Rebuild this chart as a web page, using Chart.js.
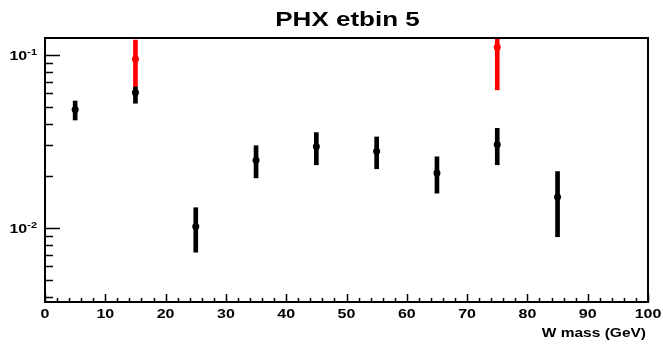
<!DOCTYPE html>
<html>
<head>
<meta charset="utf-8">
<script src="https://cdn.jsdelivr.net/npm/chart.js@4"></script>
<style>
  html, body { margin: 0; padding: 0; background: #fff; }
  canvas { display: block; }
</style>
</head>
<body>
<canvas id="c" width="663" height="345"></canvas>
<script>
// W mass bin centres (GeV)
const massBins = [5, 15, 25, 35, 45, 55, 65, 75, 85];
const phxVals = [0.0484, 0.0607, 0.0102, 0.0246, 0.0296, 0.0278, 0.0208, 0.0304, 0.0151];
const phxHi = [0.0542, 0.0658, 0.0131, 0.0299, 0.0356, 0.0336, 0.0258, 0.0377, 0.0212];
const phxLo = [0.0421, 0.0526, 0.00725, 0.0195, 0.0232, 0.0220, 0.0159, 0.0232, 0.0089];

// second (red) histogram, only two filled bins
const redBins = [15, 75];
const redVals = [0.0948, 0.111];
const redHi = [0.122, 0.16];
const redLo = [0.066, 0.0629];

const xTicks = [0, 10, 20, 30, 40, 50, 60, 70, 80, 90, 100];
const yTickVals = [0.1, 0.01];
const yTickExps = ['-1', '-2'];

const titleText = 'PHX etbin 5';
const xTitle = 'W mass (GeV)';

const FONT = '"Liberation Sans", Arial, Helvetica, sans-serif';

function squashText(ctx, s, x, y, size, align) {
  ctx.save();
  ctx.translate(x, y);
  ctx.scale(1, 0.78);
  ctx.font = 'bold ' + size + 'px ' + FONT;
  ctx.textAlign = align;
  ctx.textBaseline = 'alphabetic';
  ctx.fillStyle = '#000';
  ctx.fillText(s, 0, 0);
  ctx.restore();
}

const rootFrame = {
  id: 'rootFrame',
  afterDraw(chart) {
    const ctx = chart.ctx;
    const a = chart.chartArea;
    const xs = chart.scales.x;
    const ys = chart.scales.y;
    ctx.save();
    ctx.strokeStyle = '#000';
    ctx.lineWidth = 2;
    ctx.strokeRect(a.left, a.top, a.right - a.left, a.bottom - a.top);

    // x ticks (inside the frame)
    ctx.lineWidth = 1.5;
    ctx.beginPath();
    for (let v = xs.min; v <= xs.max; v += 2) {
      const px = Math.round(xs.getPixelForValue(v)) + 0.5;
      const len = v % 10 === 0 ? 8 : 4;
      ctx.moveTo(px, a.bottom);
      ctx.lineTo(px, a.bottom - len);
    }
    // y ticks on the log axis
    for (let e = -3; e <= -1; e++) {
      for (let m = 1; m <= 9; m++) {
        const v = m * Math.pow(10, e);
        if (v < ys.min || v > ys.max) continue;
        const py = Math.round(ys.getPixelForValue(v)) + 0.5;
        const len = m === 1 ? 15 : 8;
        ctx.moveTo(a.left, py);
        ctx.lineTo(a.left + len, py);
      }
    }
    ctx.stroke();
    ctx.restore();

    // x tick labels
    xTicks.forEach((t) => {
      squashText(ctx, String(t), xs.getPixelForValue(t), a.bottom + 16, 16, 'center');
    });
    // y tick labels 10^n
    yTickVals.forEach((v, i) => {
      const py = ys.getPixelForValue(v);
      ctx.save();
      ctx.font = 'bold 11px ' + FONT;
      const ew = ctx.measureText(yTickExps[i]).width;
      ctx.restore();
      const right = a.left - 8;
      squashText(ctx, yTickExps[i], right, py - 0.5, 11, 'right');
      squashText(ctx, '10', right - ew, py + 4.5, 16, 'right');
    });

    // titles
    squashText(ctx, titleText, (a.left + a.right) / 2 + 1, 26, 26, 'center');
    squashText(ctx, xTitle, a.right - 2, 337, 15.5, 'right');
  }
};

new Chart(document.getElementById('c').getContext('2d'), {
  data: {
    datasets: [
      {
        type: 'bar',
        data: massBins.map((x, i) => ({ x: x, y: [phxLo[i], phxHi[i]] })),
        backgroundColor: '#000',
        borderWidth: 0,
        barThickness: 4,
        grouped: false,
        order: 4
      },
      {
        type: 'bar',
        data: redBins.map((x, i) => ({ x: x, y: [redLo[i], redHi[i]] })),
        backgroundColor: '#ff0000',
        borderWidth: 0,
        barThickness: 4,
        grouped: false,
        order: 3
      },
      {
        type: 'scatter',
        data: massBins.map((x, i) => ({ x: x, y: phxVals[i] })),
        backgroundColor: '#000',
        borderColor: '#000',
        pointRadius: 3.5,
        pointBorderWidth: 0,
        order: 2
      },
      {
        type: 'scatter',
        data: redBins.map((x, i) => ({ x: x, y: redVals[i] })),
        backgroundColor: '#ff0000',
        borderColor: '#ff0000',
        pointRadius: 3.5,
        pointBorderWidth: 0,
        order: 1
      }
    ]
  },
  options: {
    responsive: false,
    animation: false,
    devicePixelRatio: 1,
    layout: { padding: { left: 45, top: 38, right: 15, bottom: 43 } },
    plugins: { legend: { display: false }, title: { display: false }, tooltip: { enabled: false } },
    scales: {
      x: { type: 'linear', min: 0, max: 100, display: false, offset: false },
      y: { type: 'logarithmic', min: 0.003735, max: 0.1254, display: false }
    }
  },
  plugins: [rootFrame]
});
</script>
</body>
</html>
